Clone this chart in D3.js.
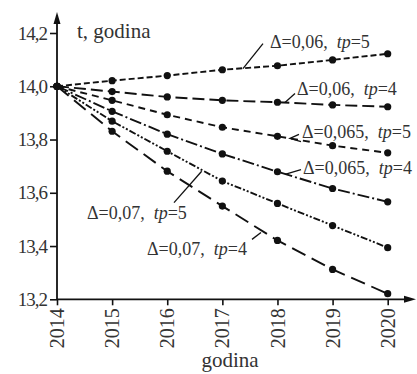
<!DOCTYPE html>
<html>
<head>
<meta charset="utf-8">
<script src="https://cdn.jsdelivr.net/npm/d3@7"></script>
<style>
  body { margin: 0; background: #fff; }
  svg, svg text { font-family: "Liberation Serif", "Times New Roman", Times, serif !important; }
</style>
</head>
<body>
<figure id="chart" style="margin:0"></figure>
<script>
// years on the x axis
const years = [2014, 2015, 2016, 2017, 2018, 2019, 2020];
const yTicks = [13.2, 13.4, 13.6, 13.8, 14.0, 14.2];

// t, godina for each scenario
const d06tp5 = [14.0, 14.021, 14.040, 14.062, 14.077, 14.099, 14.122];
const d06tp4 = [14.0, 13.980, 13.960, 13.947, 13.940, 13.930, 13.923];
const d065tp5 = [14.0, 13.947, 13.893, 13.846, 13.812, 13.777, 13.750];
const d065tp4 = [14.0, 13.906, 13.820, 13.746, 13.679, 13.616, 13.566];
const d07tp5 = [14.0, 13.869, 13.756, 13.644, 13.560, 13.477, 13.394];
const d07tp4 = [14.0, 13.831, 13.681, 13.550, 13.421, 13.312, 13.221];

const seriesNames = ["Δ=0,06|5", "Δ=0,06|4", "Δ=0,065|5", "Δ=0,065|4", "Δ=0,07|5", "Δ=0,07|4"];
const seriesValues = [d06tp5, d06tp4, d065tp5, d065tp4, d07tp5, d07tp4];

const width = 417, height = 374;
const serif = "'Liberation Serif', 'Times New Roman', Times, serif";

const svg = d3.select("#chart").append("svg")
  .attr("width", width)
  .attr("height", height)
  .style("display", "block");

const x = d3.scaleLinear().domain([2014, 2020]).range([57, 387.7]);
const y = d3.scaleLinear().domain([13.2, 14.2]).range([299.3, 33]);

// dash style per series
const dashes = ["6,3", "12,5", "7,5", "12,3,2,3", "7,2,2,2,2,2", "15,7"];

// label text position + leader line, all in data units
const labels = [
  { at: [2017.864, 14.145], leader: [[2017.374, 14.066], [2017.737, 14.160]] },
  { at: [2018.354, 13.969], leader: [[2018.136, 13.939], [2018.318, 13.973]] },
  { at: [2018.445, 13.804], leader: [[2018.390, 13.819], [2018.227, 13.804], [2018.427, 13.792]] },
  { at: [2018.463, 13.669], leader: [[2018.136, 13.669], [2018.427, 13.687]] },
  { at: [2014.544, 13.503], leader: [[2016.123, 13.563], [2016.625, 13.681]] },
  { at: [2015.633, 13.368], leader: [[2017.538, 13.425], [2017.701, 13.451]] }
];

// axes
const yAxis = svg.append("g")
  .attr("transform", "translate(" + x(2014) + ",0)")
  .call(d3.axisLeft(y).tickValues(yTicks).tickSize(7).tickPadding(3)
    .tickFormat(d => d3.format(".1f")(d).replace(".", ",")))
  .attr("font-family", null);
yAxis.select(".domain").remove();
yAxis.selectAll("line").attr("stroke", "#111").attr("stroke-width", 1.6);
yAxis.selectAll("text")
  .style("font-family", serif)
  .style("font-size", "19px")
  .style("letter-spacing", "-1px")
  .attr("fill", "#333");

const xAxis = svg.append("g")
  .attr("transform", "translate(0," + y(13.2) + ")")
  .call(d3.axisBottom(x).tickValues(years).tickSize(6).tickFormat(d3.format("d")))
  .attr("font-family", null);
xAxis.select(".domain").remove();
xAxis.selectAll("line").attr("stroke", "#111").attr("stroke-width", 1.6);
xAxis.selectAll("text")
  .style("font-family", serif)
  .style("font-size", "20px")
  .attr("fill", "#333")
  .attr("text-anchor", "end")
  .attr("transform", "rotate(-90)")
  .attr("x", -9)
  .attr("y", 0)
  .attr("dy", "0.33em");

// axis lines with arrows
svg.append("line")
  .attr("x1", x(2014)).attr("x2", x(2014))
  .attr("y1", y(13.2)).attr("y2", 20)
  .attr("stroke", "#111").attr("stroke-width", 1.8);
svg.append("path")
  .attr("d", "M" + x(2014) + ",12 l-3.5,12 l7,0 z")
  .attr("fill", "#111");
svg.append("line")
  .attr("x1", x(2014)).attr("x2", 408)
  .attr("y1", y(13.2)).attr("y2", y(13.2))
  .attr("stroke", "#111").attr("stroke-width", 1.8);
svg.append("path")
  .attr("d", "M416," + y(13.2) + " l-12,-3.5 l0,7 z")
  .attr("fill", "#111");

// axis titles
svg.append("text")
  .attr("x", 77).attr("y", 38)
  .style("font-family", serif)
  .style("font-size", "21px")
  .attr("fill", "#333")
  .text("t, godina");
svg.append("text")
  .attr("x", 230).attr("y", 367)
  .attr("text-anchor", "middle")
  .style("font-family", serif)
  .style("font-size", "21px")
  .attr("fill", "#333")
  .text("godina");

// series lines
const line = d3.line()
  .x((d, i) => x(years[i]))
  .y(d => y(d));

seriesValues.forEach(function(vals, k) {
  svg.append("path")
    .datum(vals)
    .attr("d", line)
    .attr("fill", "none")
    .attr("stroke", "#111")
    .attr("stroke-width", 1.9)
    .attr("stroke-dasharray", dashes[k]);

  svg.selectAll(null)
    .data(vals)
    .enter()
    .append("circle")
    .attr("cx", (d, i) => x(years[i]))
    .attr("cy", d => y(d))
    .attr("r", 3.6)
    .attr("fill", "#111");
});

// leaders and labels
const leader = d3.line().x(d => x(d[0])).y(d => y(d[1]));
labels.forEach(function(lb, k) {
  svg.append("path")
    .attr("d", leader(lb.leader))
    .attr("fill", "none")
    .attr("stroke", "#111")
    .attr("stroke-width", 1.3);

  const parts = seriesNames[k].split("|");
  const t = svg.append("text")
    .attr("x", x(lb.at[0]))
    .attr("y", y(lb.at[1]))
    .style("font-family", serif)
    .style("font-size", "18px")
    .attr("fill", "#333")
    .attr("xml:space", "preserve");
  t.append("tspan").text(parts[0] + ",  ");
  t.append("tspan").style("font-style", "italic").text("tp");
  t.append("tspan").text("=" + parts[1]);
});
</script>
</body>
</html>
